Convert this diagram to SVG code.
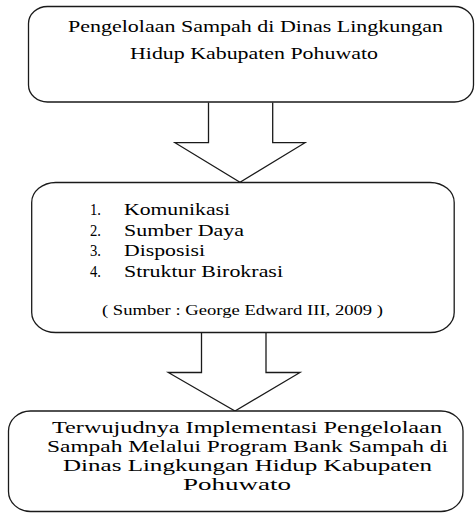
<svg xmlns="http://www.w3.org/2000/svg" width="475" height="513" viewBox="0 0 475 513">
<style>
.box{fill:#fff;stroke:#1a1a1a;stroke-width:1.3}
.arr{fill:#fff;stroke:#1a1a1a;stroke-width:1.3;stroke-linejoin:miter}
.t{font-family:'Liberation Serif','DejaVu Serif','Times New Roman',serif;font-size:17px;fill:#000}
.s{font-family:'Liberation Serif','DejaVu Serif','Times New Roman',serif;font-size:15px;fill:#000}
</style>
<rect width="475" height="513" fill="#fff"/>
<g id="connectors">
<path class="arr" d="M208.5,102.5 L208.5,142.7 L175,142.7 L240,182.3 L305,142.7 L272.7,142.7 L272.7,102.5"/>
<path class="arr" d="M201.5,332.5 L201.5,372.5 L168.3,372.5 L235,411 L300,372.5 L266,372.5 L266,332.5"/>
</g>
<g id="node1">
<rect class="box" x="28.5" y="6.5" width="445" height="95.5" rx="19" ry="17"/>
<text class="t" x="68" y="32" textLength="375" lengthAdjust="spacingAndGlyphs">Pengelolaan Sampah di Dinas Lingkungan</text>
<text class="t" x="130" y="59" textLength="248" lengthAdjust="spacingAndGlyphs">Hidup Kabupaten Pohuwato</text>
</g>
<g id="node2">
<rect class="box" x="31.7" y="182.5" width="422.5" height="150" rx="24" ry="20"/>
<text class="t" x="90" y="215" textLength="11" lengthAdjust="spacingAndGlyphs">1.</text>
<text class="t" x="124" y="215" textLength="106" lengthAdjust="spacingAndGlyphs">Komunikasi</text>
<text class="t" x="90" y="235.5" textLength="11" lengthAdjust="spacingAndGlyphs">2.</text>
<text class="t" x="124" y="235.5" textLength="120" lengthAdjust="spacingAndGlyphs">Sumber Daya</text>
<text class="t" x="90" y="256" textLength="11" lengthAdjust="spacingAndGlyphs">3.</text>
<text class="t" x="124" y="256" textLength="81" lengthAdjust="spacingAndGlyphs">Disposisi</text>
<text class="t" x="90" y="276.5" textLength="11" lengthAdjust="spacingAndGlyphs">4.</text>
<text class="t" x="124" y="276.5" textLength="159" lengthAdjust="spacingAndGlyphs">Struktur Birokrasi</text>
<text class="s" x="102" y="315" textLength="281" lengthAdjust="spacingAndGlyphs">( Sumber : George Edward III, 2009 )</text>
</g>
<g id="node3">
<rect class="box" x="8.5" y="411" width="454.5" height="100.5" rx="22" ry="20"/>
<text class="t" x="52" y="433" textLength="390" lengthAdjust="spacingAndGlyphs">Terwujudnya Implementasi Pengelolaan</text>
<text class="t" x="47" y="452" textLength="401" lengthAdjust="spacingAndGlyphs">Sampah Melalui Program Bank Sampah di</text>
<text class="t" x="63" y="471" textLength="369" lengthAdjust="spacingAndGlyphs">Dinas Lingkungan Hidup Kabupaten</text>
<text class="t" x="183" y="490" textLength="108" lengthAdjust="spacingAndGlyphs">Pohuwato</text>
</g>
</svg>
